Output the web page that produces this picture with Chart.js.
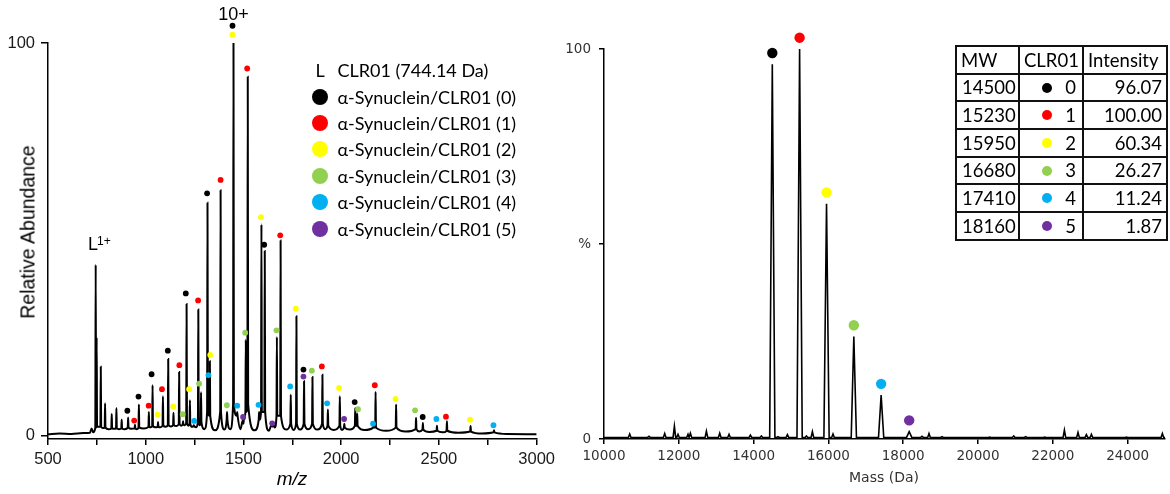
<!DOCTYPE html>
<html>
<head>
<meta charset="utf-8">
<script src="https://cdn.jsdelivr.net/npm/chart.js"></script>
<style>
  html, body { margin: 0; padding: 0; background: #fff; }
  #wrap { position: relative; width: 1170px; height: 494px; overflow: hidden; }
  canvas { position: absolute; top: 0; }
  #mzChart { left: 0; }
  #massChart { left: 560px; }
  .title { position: absolute; color: #000; white-space: nowrap; }
  #yTitle { font: 19.5px "Liberation Sans", Arial, sans-serif; left: 27.5px; top: 232px; transform: translate(-50%, -50%) rotate(-90deg); }
  #xTitle { font: italic 19px "Liberation Sans", Arial, sans-serif; left: 292px; top: 479px; transform: translate(-50%, -50%); }
  #massTitle { font: 14px "DejaVu Sans", sans-serif; color: #333; left: 884px; top: 477px; transform: translate(-50%, -50%); }
  #legend { position: absolute; left: 308px; top: 57px; font: 18px Lato, sans-serif; color: #000; }
  #legend .row { height: 26.4px; display: flex; align-items: center; white-space: nowrap; }
  #legend .key { width: 24px; display: inline-flex; justify-content: center; margin-right: 5.5px; }
  #legend .key i { display: block; width: 16px; height: 16px; border-radius: 50%; }
  #mwTable { position: absolute; left: 955px; top: 45px; width: 211px; table-layout: fixed;
    border-collapse: collapse; font: 18.5px Lato, sans-serif; color: #000; }
  #mwTable th, #mwTable td { border: 2px solid #111; height: 25.7px; padding: 0; font-weight: normal; line-height: 1; }
  #mwTable th { text-align: left; padding-left: 4px; }
  #mwTable td.mw { text-align: left; padding-left: 5px; }
  #mwTable td.n { text-align: right; padding-right: 6px; position: relative; }
  #mwTable td.n i { position: absolute; left: 22px; top: 50%; width: 10px; height: 10px; margin-top: -5px; border-radius: 50%; }
  #mwTable td.int { text-align: right; padding-right: 4px; }
</style>
</head>
<body>
<div id="wrap">
  <canvas id="mzChart" width="560" height="494"></canvas>
  <canvas id="massChart" width="610" height="494"></canvas>
  <div class="title" id="yTitle">Relative Abundance</div>
  <div class="title" id="xTitle">m/z</div>
  <div class="title" id="massTitle">Mass (Da)</div>
  <div id="legend"></div>
  <table id="mwTable">
    <colgroup><col style="width:63px"><col style="width:64px"><col style="width:84px"></colgroup>
    <thead><tr><th>MW</th><th>CLR01</th><th>Intensity</th></tr></thead>
    <tbody></tbody>
  </table>
</div>
<script>
// ---------- species (number of bound CLR01) ----------
const speciesColors = ["#000000", "#ff0000", "#ffff00", "#92d050", "#00b0f0", "#7030a0"];
const speciesLabels = [
  "α-Synuclein/CLR01 (0)", "α-Synuclein/CLR01 (1)", "α-Synuclein/CLR01 (2)",
  "α-Synuclein/CLR01 (3)", "α-Synuclein/CLR01 (4)", "α-Synuclein/CLR01 (5)",
];
const ligandLabel = "CLR01 (744.14 Da)";

// ---------- m/z spectrum ----------
const mzTicks = [500, 750, 1000, 1250, 1500, 1750, 2000, 2250, 2500, 2750, 3000];
const abundanceTicks = [0, 100];

// baseline / valley levels [m/z, abundance]
const mzBaseline = [
  [500, 0.3], [560, 0.5], [620, 0.4], [680, 0.6], [715, 0.7], [723, 1.8], [731, 0.8],
  [758, 2.2], [781, 1.9], [810, 1.6], [838, 1.7], [864, 1.6], [893, 1.6], [926, 1.7],
  [953, 1.6], [990, 1.8], [1026, 2.1], [1050, 2.1], [1075, 2.1], [1102, 2.2], [1129, 2.3],
  [1158, 2.4], [1182, 2.5], [1200, 2.6], [1218, 2.5], [1237, 2.2], [1258, 2.1], [1276, 2.6],
  [1300, 1.6], [1354, 1.3], [1402, 1.5], [1432, 1.6], [1484, 1.6], [1557, 1.3], [1630, 1.2],
  [1660, 2.0], [1718, 1.5], [1757, 1.4], [1790, 1.5], [1831, 1.6], [1878, 1.5], [1918, 1.6],
  [1962, 1.4], [2004, 1.4], [2045, 1.5], [2120, 1.4], [2230, 1.2], [2330, 1.0], [2400, 1.0],
  [2450, 0.9], [2520, 0.8], [2600, 0.7], [2720, 0.5], [2850, 0.4], [3000, 0.3],
];

// peaks [m/z, apex, foot]
const mzPeaks = [
  [744, 43.5, 2], [749, 25, 2.2], [770, 17.5, 2.2], [792, 8.2, 2], [826, 5.5, 1.8],
  [850, 7, 1.8], [877, 4, 1.8], [910, 4.6, 2], [945, 2.7, 1.8], [965, 7.9, 2],
  [1016, 6, 2.2], [1035, 12.8, 2.4], [1063, 3.4, 2.2], [1088, 10, 2.5], [1115, 19.5, 2.6],
  [1142, 5.8, 2.6], [1171, 16.2, 3], [1191, 3.6, 2.8], [1209, 33.5, 3.2], [1226, 9, 3],
  [1246, 2.6, 2.4], [1269, 32.1, 3.6], [1283, 11, 3.4], [1316, 59.3, 6], [1328, 18.9, 5],
  [1383, 62.5, 6], [1416, 6, 4], [1449, 100, 8], [1468, 6, 5], [1500, 3, 4],
  [1512, 24.4, 6], [1522, 91.4, 8], [1580, 6, 4], [1592, 53.8, 6], [1609, 47, 6],
  [1648, 2.2, 3], [1671, 25.1, 5], [1690, 49.7, 5], [1742, 10.4, 3], [1771, 30.4, 3],
  [1810, 13.8, 3], [1853, 14.9, 3], [1904, 15.5, 3], [1932, 6.6, 2.5], [1993, 10, 2.5],
  [2016, 3, 2], [2072, 7, 2.5], [2082, 5.6, 2.5], [2165, 2.2, 2], [2176, 11.1, 2],
  [2281, 7.9, 2], [2383, 4.5, 1.6], [2418, 3.2, 1.5], [2490, 2.5, 1.2], [2541, 3.6, 1.2],
  [2662, 2.4, 1], [2782, 1.3, 0.8],
];

// charge-state markers per species [m/z, abundance]
const mzMarks0 = [[906, 6.3], [963, 9.9], [1030, 15.6], [1113, 21.6], [1205, 36.2], [1314, 61.7], [1444, 104.4], [1606, 48.6], [1807, 16.8], [2069, 8.5], [2417, 4.7]];
const mzMarks1 = [[941, 3.8], [1015, 7.6], [1083, 11.8], [1172, 17.9], [1268, 34.4], [1383, 65.1], [1519, 93.5], [1688, 51], [1901, 17.6], [2172, 12.8], [2536, 4.8]];
const mzMarks2 = [[1061, 5.3], [1141, 7.4], [1222, 11.8], [1330, 20.5], [1444, 102.1], [1590, 55.6], [1768, 32.3], [1989, 12.1], [2278, 9.3], [2659, 4]];
const mzMarks3 = [[1189, 5.4], [1273, 13.2], [1415, 7.7], [1509, 26.2], [1669, 26.8], [1850, 16.5], [2086, 6.7], [2378, 6.4]];
const mzMarks4 = [[1248, 3.7], [1321, 15.4], [1468, 7.6], [1577, 7.8], [1739, 12.5], [1928, 8.2], [2163, 3], [2487, 4.2], [2779, 2.6]];
const mzMarks5 = [[1498, 4.7], [1647, 3.1], [1807, 15], [2015, 4.2]];

// ---------- deconvoluted mass spectrum ----------
const mwValues = [14500, 15230, 15950, 16680, 17410, 18160];
const clrCounts = [0, 1, 2, 3, 4, 5];
const intensities = [96.07, 100.0, 60.34, 26.27, 11.24, 1.87];
const massTicks = [10000, 12000, 14000, 16000, 18000, 20000, 22000, 24000];
const percentTicks = [0, 50, 100];
const massBaseline = 0.4;
// small side peaks [mass, %]
const massMinor = [
  [10687, 1.3], [11203, 0.7], [11623, 1.4], [11882, 3.3], [11979, 1.2], [12246, 1.2],
  [12310, 1.5], [12738, 2.0], [13094, 1.5], [13343, 1.2], [13914, 1.0], [14208, 0.8],
  [14652, 0.6], [14904, 1.1], [15412, 0.8], [15572, 1.9], [16123, 1.3], [18503, 0.7],
  [18690, 1.4], [19037, 0.6], [20313, 0.5], [20955, 0.8], [21275, 0.6], [21783, 0.5],
  [22310, 2.3], [22674, 1.7], [22898, 1.1], [23032, 1.2], [23968, 0.5], [24930, 1.4],
];

const MZ_HALF = 2;        // half width of an m/z spike
const MASS_HALF = 70;     // half width of a deconvoluted peak
const MINOR_HALF = 35;
const DOT_LIFT = 2.9;     // marker sits just above the apex

const toXY = ([x, y]) => ({ x, y });
const byX = (a, b) => a[0] - b[0];

function mzTrace() {
  const pts = mzBaseline.slice();
  mzPeaks.forEach(([mz, top, foot]) => {
    pts.push([mz - MZ_HALF, foot], [mz, top], [mz + MZ_HALF, foot]);
  });
  return pts.sort(byX).map(toXY);
}

function massTrace() {
  const pts = [[10000, massBaseline], [25000, massBaseline]];
  mwValues.forEach((m, i) => {
    pts.push([m - MASS_HALF, massBaseline], [m, intensities[i]], [m + MASS_HALF, massBaseline]);
  });
  massMinor.forEach(([m, h]) => {
    pts.push([m - MINOR_HALF, massBaseline], [m, h], [m + MINOR_HALF, massBaseline]);
  });
  return pts.sort(byX).map(toXY);
}

// ---------- legend + table ----------
const legend = document.getElementById("legend");
legend.innerHTML =
  `<div class="row"><span class="key">L</span>${ligandLabel}</div>` +
  speciesLabels
    .map((t, i) => `<div class="row"><span class="key"><i style="background:${speciesColors[i]}"></i></span>${t}</div>`)
    .join("");

document.querySelector("#mwTable tbody").innerHTML = mwValues
  .map((m, i) =>
    `<tr><td class="mw">${m}</td>` +
    `<td class="n"><i style="background:${speciesColors[i]}"></i>${clrCounts[i]}</td>` +
    `<td class="int">${intensities[i].toFixed(2)}</td></tr>`)
  .join("");

// ---------- plugins ----------
// coloured markers; drawn by hand so the ones above 100 are not dropped
const markerDots = (marks, radius) => ({
  id: "markerDots",
  afterDatasetsDraw(chart) {
    const { ctx, scales: { x, y } } = chart;
    ctx.save();
    marks.forEach((m) => {
      ctx.beginPath();
      ctx.arc(x.getPixelForValue(m.x), y.getPixelForValue(m.y), radius, 0, Math.PI * 2);
      ctx.fillStyle = m.color;
      ctx.fill();
    });
    ctx.restore();
  },
});

const ionLabels = {
  id: "ionLabels",
  afterDatasetsDraw(chart) {
    const { ctx, scales: { x, y } } = chart;
    ctx.save();
    ctx.fillStyle = "#000";
    ctx.font = '18px "Liberation Sans", Arial, sans-serif';
    ctx.textAlign = "center";
    ctx.textBaseline = "middle";
    ctx.fillText("10+", x.getPixelForValue(1449), y.getPixelForValue(104.4) - 11);

    const lx = x.getPixelForValue(744) - 7.7;
    const ly = y.getPixelForValue(43.5) - 15;
    ctx.textAlign = "left";
    ctx.textBaseline = "alphabetic";
    ctx.fillText("L", lx, ly);
    ctx.font = '12px "Liberation Sans", Arial, sans-serif';
    ctx.fillText("1+", lx + 9, ly - 5);
    ctx.restore();
  },
};

const mzMarks = [mzMarks0, mzMarks1, mzMarks2, mzMarks3, mzMarks4, mzMarks5]
  .flatMap((set, i) => set.map(([x, y]) => ({ x, y, color: speciesColors[i] })));
const massMarks = mwValues.map((m, i) => ({ x: m, y: intensities[i] + DOT_LIFT, color: speciesColors[i] }));

const axisLine = { color: "#000", width: 1.5 };
const outTicks = (len) => ({ drawOnChartArea: false, drawTicks: true, tickLength: len, color: "#000", lineWidth: 1.5 });

const mzFont = { family: '"Liberation Sans", Arial, sans-serif', size: 16.5 };
const massFont = { family: '"DejaVu Sans", sans-serif', size: 13.5 };

new Chart(document.getElementById("mzChart"), {
  type: "scatter",
  data: {
    datasets: [{
      data: mzTrace(),
      showLine: true,
      borderColor: "#000",
      borderWidth: 2,
      pointRadius: 0,
      cubicInterpolationMode: "monotone",
    }],
  },
  options: {
    responsive: false,
    animation: false,
    events: [],
    layout: { padding: { top: 43, right: 23, left: 0, bottom: 0 }, autoPadding: false },
    plugins: { legend: { display: false }, tooltip: { enabled: false } },
    scales: {
      x: {
        type: "linear",
        min: 500,
        max: 3000,
        afterFit: (s) => { s.height = 55; },
        afterBuildTicks: (s) => { s.ticks = mzTicks.map((value) => ({ value })); },
        ticks: {
          autoSkip: false,
          maxRotation: 0,
          padding: 5,
          color: "#1a1a1a",
          font: mzFont,
          callback: (v) => (v % 500 === 0 ? v : ""),
        },
        grid: outTicks(6),
        border: axisLine,
      },
      y: {
        min: -0.9,
        max: 100,
        afterFit: (s) => { s.width = 48; },
        afterBuildTicks: (s) => { s.ticks = abundanceTicks.map((value) => ({ value })); },
        ticks: { padding: 6, color: "#1a1a1a", font: mzFont },
        grid: outTicks(7),
        border: axisLine,
      },
    },
  },
  plugins: [markerDots(mzMarks, 2.9), ionLabels],
});

new Chart(document.getElementById("massChart"), {
  type: "scatter",
  data: {
    datasets: [{
      data: massTrace(),
      showLine: true,
      borderColor: "#000",
      borderWidth: 1.6,
      pointRadius: 0,
      tension: 0,
    }],
  },
  options: {
    responsive: false,
    animation: false,
    events: [],
    layout: { padding: { top: 49, right: 5, left: 0, bottom: 0 }, autoPadding: false },
    plugins: { legend: { display: false }, tooltip: { enabled: false } },
    scales: {
      x: {
        type: "linear",
        min: 10000,
        max: 25000,
        afterFit: (s) => { s.height = 55; },
        afterBuildTicks: (s) => { s.ticks = massTicks.map((value) => ({ value })); },
        ticks: { autoSkip: false, maxRotation: 0, padding: 4, color: "#333", font: massFont, callback: (v) => v },
        grid: outTicks(5),
        border: axisLine,
      },
      y: {
        min: 0,
        max: 100,
        afterFit: (s) => { s.width = 44; },
        afterBuildTicks: (s) => { s.ticks = percentTicks.map((value) => ({ value })); },
        ticks: { padding: 8, color: "#333", font: massFont, callback: (v) => (v === 50 ? "%" : v) },
        grid: outTicks(5),
        border: axisLine,
      },
    },
  },
  plugins: [markerDots(massMarks, 5.2)],
});
</script>
</body>
</html>
